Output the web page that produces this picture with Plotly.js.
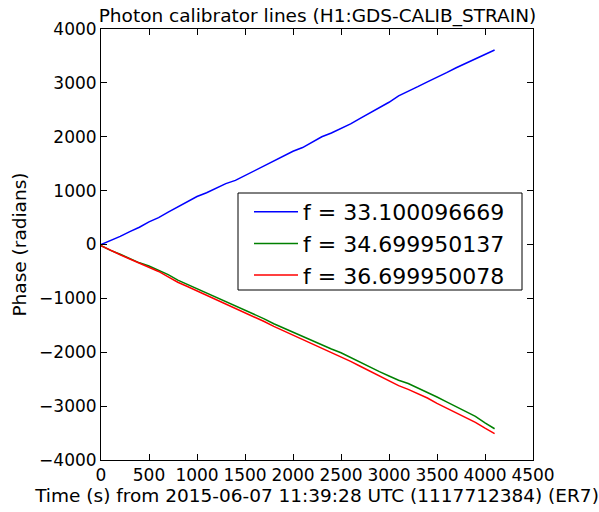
<!DOCTYPE html>
<html><head><meta charset="utf-8">
<script src="https://cdn.plot.ly/plotly-3.0.1.min.js"></script>
<style>body{margin:0;padding:0;background:#fff}#chart{width:599px;height:512px}</style>
</head><body><div id="chart"></div>
<script>
const time = [0,100,200,300,400,500,600,700,800,900,1000,1100,1200,1300,1400,1500,1600,1700,1800,1900,2000,2100,2200,2300,2400,2500,2600,2700,2800,2900,3000,3100,3200,3300,3400,3500,3600,3700,3800,3900,4000,4100];
const phase33 = [0,70,150,240,320,420,500,600,700,790,890,960,1040,1130,1190,1280,1380,1470,1560,1640,1730,1800,1900,2000,2070,2150,2240,2340,2440,2540,2640,2760,2840,2930,3020,3100,3190,3280,3360,3440,3530,3610];
const phase34 = [-20,-110,-180,-260,-340,-400,-480,-560,-660,-740,-820,-900,-980,-1060,-1130,-1210,-1290,-1380,-1470,-1550,-1630,-1710,-1790,-1860,-1940,-2010,-2100,-2180,-2270,-2360,-2440,-2520,-2580,-2660,-2740,-2830,-2920,-3010,-3100,-3190,-3310,-3420];
const phase36 = [-20,-110,-190,-270,-350,-420,-500,-600,-700,-780,-860,-950,-1030,-1110,-1180,-1260,-1340,-1430,-1520,-1600,-1690,-1770,-1850,-1930,-2010,-2090,-2170,-2260,-2350,-2440,-2530,-2620,-2690,-2770,-2850,-2950,-3040,-3120,-3210,-3300,-3410,-3510];
const names = ["f = 33.100096669","f = 34.699950137","f = 36.699950078"];
const colors = ["#0000ff","#008000","#ff0000"];
const series = [phase33, phase34, phase36];
const traces = series.map((s,i)=>({x:time,y:s,type:'scatter',mode:'lines',name:names[i],line:{color:colors[i],width:1.5}}));
const fam = 'DejaVu Sans, sans-serif';
const axisBase = {showgrid:false, zeroline:false, showline:true, linecolor:'#000', linewidth:1, mirror:'ticks', ticks:'inside', ticklen:6, tickcolor:'#000', tickfont:{family:fam,size:17,color:'#000'}};
const W = 599, H = 512, L = 101, R = 66, T = 29, B = 52;
const pw = W-L-R, ph = H-T-B;
const layout = {
  width:W, height:H,
  margin:{l:L,r:R,t:T,b:B},
  paper_bgcolor:'#fff', plot_bgcolor:'#fff',
  font:{family:fam,color:'#000'},
  showlegend:true,
  title:{text:'Photon calibrator lines (H1:GDS-CALIB_STRAIN)', font:{family:fam,size:18.5,color:'#000'}, x:0.53, xanchor:'center', y:0.97, yanchor:'middle'},
  xaxis:Object.assign({}, axisBase, {range:[0,4500], dtick:500, tick0:0, title:{text:'Time (s) from 2015-06-07 11:39:28 UTC (1117712384) (ER7)', font:{family:fam,size:18.5,color:'#000'}, standoff:4}}),
  yaxis:Object.assign({}, axisBase, {range:[-4000,4000], dtick:1000, tick0:0, title:{text:'Phase (radians)', font:{family:fam,size:18.5,color:'#000'}, standoff:7}}),
  shapes:[{type:'rect', xref:'paper', yref:'paper', layer:'below',
    x0:(238-L)/pw, x1:(522-L)/pw, y0:(H-B-290)/ph, y1:(H-B-193)/ph,
    line:{color:'#000',width:1}, fillcolor:'#fff'}],
  legend:{x:(249-L)/pw, y:(H-B-191)/ph, xanchor:'left', yanchor:'top', borderwidth:0, bgcolor:'rgba(0,0,0,0)', font:{family:fam,size:22,color:'#000'}, tracegroupgap:0, itemwidth:44}
};
Plotly.newPlot('chart', traces, layout, {staticPlot:true, displayModeBar:false});
</script></body></html>
